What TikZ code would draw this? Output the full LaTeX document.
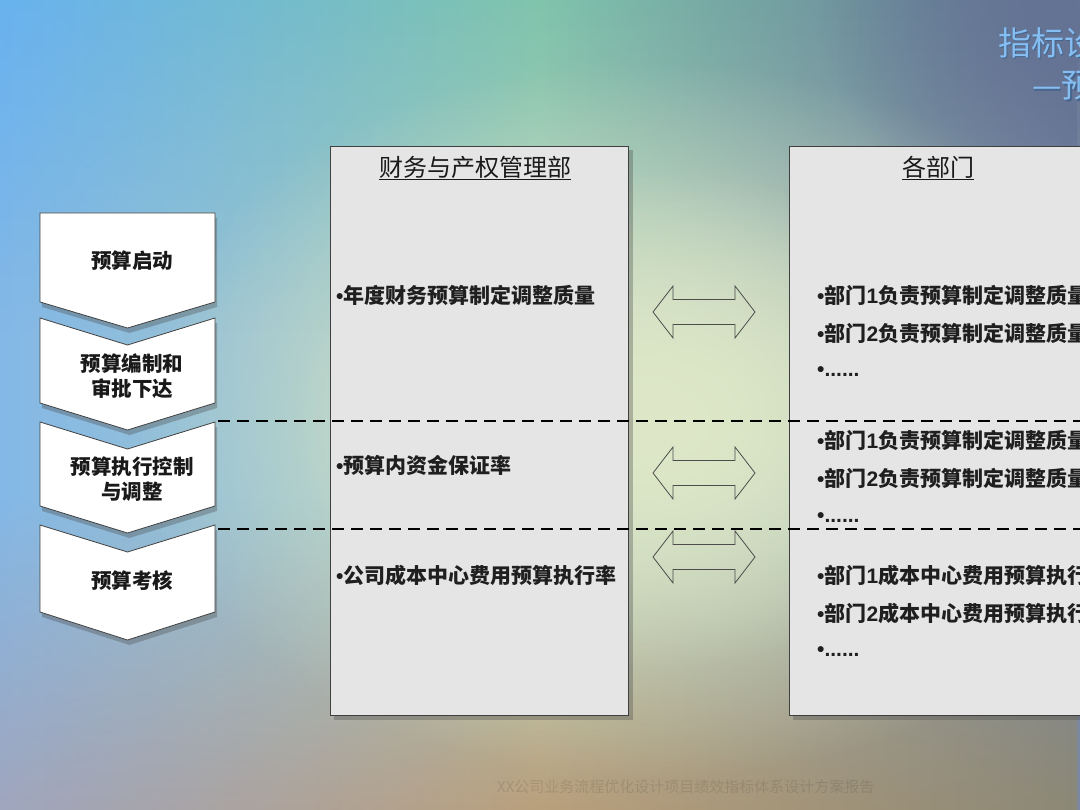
\documentclass[tikz,border=0pt]{standalone}
\usepackage{fontspec}
\newfontfamily\cjk{Noto Sans CJK SC}
\newfontfamily\arialf{Liberation Sans}
\usetikzlibrary{fadings}
\tikzfading[name=radf, inner color=transparent!0, outer color=transparent!100]
\tikzfading[name=fadedown, top color=transparent!0, bottom color=transparent!100]
\tikzfading[name=fadeup, top color=transparent!100, bottom color=transparent!0]
\definecolor{bgL}{RGB}{132,184,230}
\definecolor{bgM}{RGB}{176,206,188}
\definecolor{bgR}{RGB}{124,136,160}
\definecolor{tL}{RGB}{104,178,240}
\definecolor{tM}{RGB}{128,196,172}
\definecolor{tR}{RGB}{100,114,148}
\definecolor{bL}{RGB}{160,166,190}
\definecolor{bM}{RGB}{186,160,124}
\definecolor{bR}{RGB}{140,136,118}
\definecolor{pale}{RGB}{222,232,200}
\definecolor{panelgray}{RGB}{229,229,229}
\definecolor{titleblue}{RGB}{132,190,242}
\definecolor{titleshadow}{RGB}{70,100,140}
\newcommand\dg[1]{{\arialf\bfseries #1}}
\tikzset{
  chev/.style={fill=white, draw=black!75, line width=0.8pt, line join=miter},
  shadowfill/.style={fill=black!70, opacity=0.35},
  panel/.style={fill=panelgray, draw=black!75, line width=0.8pt},
  dbl/.style={draw=black!70, line width=0.8pt, line join=miter},
  sep/.style={line width=2.4pt, dash pattern=on 12pt off 7pt, black},
  chevtxt/.style={font=\cjk\bfseries\fontsize{20.5}{25}\selectfont, align=center, text=black!90, inner sep=0},
  item/.style={anchor=west, inner sep=0, font=\cjk\bfseries\fontsize{21}{24}\selectfont, text=black!88},
  hdr/.style={font=\cjk\fontsize{24}{28}\selectfont, inner sep=0, text=black!90},
  ttl/.style={anchor=west, inner sep=0, font=\cjk\fontsize{33}{36}\selectfont},
  pics/chevron/.style n args={4}{code={
    \fill[shadowfill] (42,#1+5) -- (129.5,#2+5) -- (217,#1+5) -- (217,#3+5) -- (129.5,#4+5) -- (42,#3+5) -- cycle;
    \draw[chev] (40,#1) -- (127.5,#2) -- (215,#1) -- (215,#3) -- (127.5,#4) -- (40,#3) -- cycle;
  }},
  pics/dblarrow/.style={code={
    \draw[dbl] (-51,0) -- (-31,-26) -- (-31,-12.5) -- (31,-12.5) -- (31,-26) -- (51,0) -- (31,26) -- (31,12.5) -- (-31,12.5) -- (-31,26) -- cycle;
  }}
}
\begin{document}
\begin{tikzpicture}[x=1pt,y=-1pt]
\useasboundingbox (0,0) rectangle (1080,810);
\clip (0,0) rectangle (1080,810);
% background
\shade[left color=bgL, right color=bgR, middle color=bgM] (0,0) rectangle (1080,810);
\shade[left color=tL, right color=tR, middle color=tM, path fading=fadedown] (0,0) rectangle (1080,330);
\shade[left color=bL, right color=bR, middle color=bM, path fading=fadeup] (0,500) rectangle (1080,810);
\fill[pale, path fading=radf] (650,420) ellipse [x radius=520, y radius=360];
\fill[pale, path fading=radf] (650,420) ellipse [x radius=360, y radius=250];
\fill[tR, path fading=radf] (1080,20) ellipse [x radius=260, y radius=200];
% title (cut off at the right edge, as in the reference)
\node[ttl, text=titleshadow] at (999.5,44.5) {指标设计};
\node[ttl, text=titleblue] (t1) at (998,43) {指标设计};
\node[ttl, text=titleshadow] at (1033.5,86.5) {—预算};
\node[ttl, text=titleblue] (t2) at (1032,85) {—预算};
% chevrons
\pic {chevron={213}{213}{302}{328}};
\pic {chevron={318}{345}{403}{430}};
\pic {chevron={422}{449}{506}{533}};
\pic {chevron={525}{552}{612}{640}};
\node[chevtxt] (c1) at (132,261) {预算启动};
\node[chevtxt] (c2) at (132,376) {预算编制和\\审批下达};
\node[chevtxt] (c3) at (132,479) {预算执行控制\\与调整};
\node[chevtxt] (c4) at (132,581) {预算考核};
% panels
\fill[shadowfill] (334,150) rectangle (633,720);
\draw[panel] (330,146) rectangle (628,715);
\fill[shadowfill] (793,150) rectangle (1095,720);
\draw[panel] (789,146) rectangle (1090,715);
\node[hdr] (h1) at (475,168) {\underline{财务与产权管理部}};
\node[hdr] (h2) at (938,168) {\underline{各部门}};
% left items
\node[item] (l1) at (336,295) {\dg{•}年度财务预算制定调整质量};
\node[item] (l2) at (336,465) {\dg{•}预算内资金保证率};
\node[item] (l3) at (336,575) {\dg{•}公司成本中心费用预算执行率};
% right items
\node[item] (r1) at (817,295) {\dg{•}部门\dg{1}负责预算制定调整质量};
\node[item] (r2) at (817,333) {\dg{•}部门\dg{2}负责预算制定调整质量};
\node[item] (r3) at (817,372) {\dg{•......}};
\node[item] (r4) at (817,440) {\dg{•}部门\dg{1}负责预算制定调整质量};
\node[item] (r5) at (817,478) {\dg{•}部门\dg{2}负责预算制定调整质量};
\node[item] (r6) at (817,518) {\dg{•......}};
\node[item] (r7) at (817,575) {\dg{•}部门\dg{1}成本中心费用预算执行率};
\node[item] (r8) at (817,613) {\dg{•}部门\dg{2}成本中心费用预算执行率};
\node[item] (r9) at (817,652) {\dg{•......}};
% double arrows
\pic at (704,312) {dblarrow};
\pic at (704,473) {dblarrow};
\pic at (704,557) {dblarrow};
% dashed separators
\coordinate (s1a) at (218,421);
\coordinate (s1b) at (1080,421);
\coordinate (s2a) at (218,529);
\coordinate (s2b) at (1080,529);
\draw[sep] (s1a) -- (s1b);
\draw[sep] (s2a) -- (s2b);
% footer
\node[anchor=west, inner sep=0, font=\cjk\fontsize{15}{18}\selectfont, text=black, opacity=0.1] (ft) at (497,787) {XX公司业务流程优化设计项目绩效指标体系设计方案报告};
\end{tikzpicture}
\end{document}
